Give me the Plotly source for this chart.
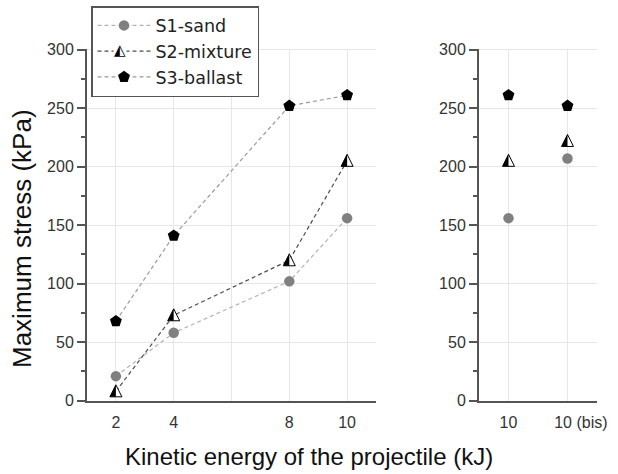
import plotly.graph_objects as go

# ---- data ----
energy = [2, 4, 8, 10]
s1_sand = [21, 58, 102, 156]
s2_mixture = [8, 73, 120, 205]
s3_ballast = [68, 141, 252, 261]

rep_cats = ["10", "10 (bis)"]
s1_rep = [156, 207]
s2_rep = [205, 222]
s3_rep = [261, 252]

x_tickvals = [2, 4, 6, 8, 10]
x_ticktext = ["2", "4", "", "8", "10"]

W, H = 618, 474
FONT = "Liberation Sans, Arial, sans-serif"
LFONT = "DejaVu Sans, sans-serif"
AX = "#555555"
GRID = "#e6e6e6"

fig = go.Figure()

series = [
    ("S1-sand", s1_sand, s1_rep, dict(symbol="circle", size=10.5, color="#808080", line=dict(width=0)), "#b3b3b3"),
    ("S2-mixture", s2_mixture, s2_rep, dict(symbol="triangle-up", size=12, color="rgba(0,0,0,0)", line=dict(width=0)), "#4d4d4d"),
    ("S3-ballast", s3_ballast, s3_rep, dict(symbol="pentagon", size=12.5, color="black", line=dict(width=0)), "#9a9a9a"),
]

for name, left_vals, right_vals, mk, lc in series:
    fig.add_trace(go.Scatter(x=energy, y=left_vals, mode="lines+markers", name=name,
                             line=dict(color=lc, width=1.2, dash="4px,3px"),
                             marker=mk, xaxis="x", yaxis="y", legendgroup=name))
    fig.add_trace(go.Scatter(x=rep_cats, y=right_vals, mode="markers", name=name,
                             marker=mk, xaxis="x2", yaxis="y2", showlegend=False, legendgroup=name))

# half-filled triangle markers (left half black) for S2, drawn at the data points
hw, top, bot = 6.0, 6.5, -5.5
full_path = f"M{-hw},{bot} L{hw},{bot} L0,{top} Z"
half_path = f"M{-hw},{bot} L0,{bot} L0,{top} Z"


def tri_shapes(xref, yref, xv, yv):
    common = dict(xref=xref, yref=yref, xsizemode="pixel", ysizemode="pixel", xanchor=xv, yanchor=yv, type="path")
    return [dict(path=full_path, fillcolor="white", line=dict(width=1, color="black"), **common),
            dict(path=half_path, fillcolor="black", line=dict(width=0), **common)]


shapes = []
for xv, yv in zip(energy, s2_mixture):
    shapes += tri_shapes("x", "y", xv, yv)
for i, yv in enumerate(s2_rep):
    shapes += tri_shapes("x2", "y2", i, yv)

yd = [(H - 400.7) / H, (H - 48.5) / H]
common_y = dict(range=[0, 301], tickvals=[0, 50, 100, 150, 200, 250, 300], showline=True, linecolor=AX, linewidth=2,
                ticks="outside", ticklen=8, tickwidth=1.5, tickcolor=AX, showgrid=True, gridcolor=GRID, gridwidth=1,
                zeroline=False, tickfont=dict(family=FONT, size=16, color="#333"),
                minor=dict(ticks="outside", ticklen=4, tickwidth=1.5, tickcolor=AX, dtick=25, tick0=0, showgrid=False),
                domain=yd, fixedrange=True, automargin=False)

nb = "\u00a0"
rep_ticktext = [rep_cats[0], nb * 6 + rep_cats[1]]

fig.update_layout(
    width=W, height=H, margin=dict(l=0, r=0, t=0, b=0, autoexpand=False),
    paper_bgcolor="white", plot_bgcolor="white",
    xaxis=dict(domain=[87 / W, 376 / W], range=[1, 11], tickvals=x_tickvals, ticktext=x_ticktext,
               showline=True, linecolor=AX, linewidth=2, ticks="", showgrid=True, gridcolor=GRID,
               zeroline=False, tickfont=dict(family=FONT, size=16, color="#333"), ticklabelstandoff=6,
               anchor="y", automargin=False),
    yaxis=dict(anchor="x", **common_y),
    xaxis2=dict(domain=[479 / W, 597 / W], type="category", range=[-0.5, 1.5], categoryarray=rep_cats,
                tickvals=rep_cats, ticktext=rep_ticktext,
                showline=True, linecolor=AX, linewidth=2, ticks="", showgrid=True, gridcolor=GRID,
                zeroline=False, tickfont=dict(family=FONT, size=16, color="#333"), ticklabelstandoff=6,
                anchor="y2", automargin=False),
    yaxis2=dict(anchor="x2", **common_y),
    legend=dict(x=91 / W, y=1 - 6 / H, xanchor="left", yanchor="top", bgcolor="white",
                bordercolor=AX, borderwidth=1.5, font=dict(family=LFONT, size=17.5, color="#222"),
                itemwidth=53, tracegroupgap=0),
    showlegend=True,
    shapes=shapes,
    annotations=[
        dict(text="Maximum stress (kPa)", textangle=-90, xref="paper", yref="paper",
             x=22 / W, y=1 - 239 / H, xanchor="center", yanchor="middle", showarrow=False,
             font=dict(family=FONT, size=26, color="#111")),
        dict(text="Kinetic energy of the projectile (kJ)", xref="paper", yref="paper",
             x=309 / W, y=1 - 456 / H, xanchor="center", yanchor="middle", showarrow=False,
             font=dict(family=FONT, size=24, color="#111")),
        # half-black triangle glyph as the S2 legend symbol
        dict(text="\u25ED", xref="paper", yref="paper", x=120 / W, y=1 - 49.5 / H,
             xanchor="center", yanchor="middle", showarrow=False, bgcolor="white", borderpad=0,
             font=dict(family=LFONT, size=15, color="black")),
    ],
)

fig.write_html("out.html")
